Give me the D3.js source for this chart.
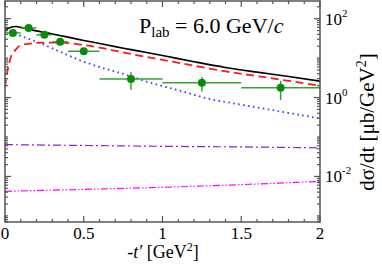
<!DOCTYPE html>
<html>
<head>
<meta charset="utf-8">
<script src="https://cdn.jsdelivr.net/npm/d3@7"></script>
<style>
  body { margin: 0; background: #fff; }
  text { font-family: "Liberation Serif", "DejaVu Serif", serif; fill: #000; }
</style>
</head>
<body>
<div id="chart"></div>
<script>
// measured points (green)
var dataT  = [0.05, 0.15, 0.25, 0.35, 0.5, 0.8, 1.25, 1.75];
var dataLo = [0, 0.1, 0.2, 0.3, 0.4, 0.6, 1.0, 1.5];
var dataHi = [0.1, 0.2, 0.3, 0.4, 0.6, 1.0, 1.5, 2.0];
var dataY  = [43.5, 58, 39, 26, 14.9, 2.97, 2.36, 1.76];
var dataErr = [3, 4, 3, 2, 1.5, 1.4, 0.95, 0.9];

// model curves
var totalT = [0, 0.03, 0.07, 0.1, 0.2, 0.3, 0.4, 0.5, 0.6, 0.7, 0.8, 0.9, 1.0, 1.2, 1.4, 1.6, 1.8, 2.0];
var totalY = [51, 59, 63, 60, 49, 41, 34, 28, 23.4, 19.5, 16.4, 13.8, 11.6, 8.1, 5.8, 4.4, 3.4, 2.6];

var redT = [0, 0.006, 0.027, 0.045, 0.063, 0.095, 0.16, 0.25, 0.35, 0.48, 0.6, 0.7, 0.8, 1.0, 1.2, 1.4, 1.6, 1.8, 2.0];
var redY = [1.8, 2.7, 7.7, 12.5, 15.5, 20.7, 23.3, 24.7, 24.7, 22, 18.5, 15.3, 12.7, 9.0, 6.4, 4.6, 3.5, 2.65, 2.0];

var blueT = [0, 0.095, 0.222, 0.349, 0.476, 0.603, 0.75, 0.92, 1.1, 1.3, 1.5, 1.75, 2.0];
var blueY = [50, 37, 24, 14.5, 8.8, 5.9, 4.0, 2.4, 1.53, 0.92, 0.66, 0.44, 0.295];

var purpleT = [0, 0.5, 1.0, 1.5, 2.0];
var purpleY = [0.064, 0.061, 0.058, 0.056, 0.053];

var magentaT = [0, 0.5, 1.0, 1.5, 2.0];
var magentaY = [0.0042, 0.0047, 0.0053, 0.0062, 0.0075];

var xTicks = [0, 0.5, 1, 1.5, 2];
var yTickExp = [-2, 0, 2];

var W = 382, H = 265;
var pLeft = 5, pRight = 320, pTop = 1, pBottom = 222;

var svg = d3.select("#chart").append("svg")
    .attr("width", W).attr("height", H);

var x = d3.scaleLinear().domain([0, 2]).range([pLeft, pRight]);
var y = d3.scaleLog().domain([7e-4, 280]).range([pBottom, pTop]);

var plot = svg.append("g");
plot.append("clipPath").attr("id", "clip")
  .append("rect").attr("x", pLeft).attr("y", pTop)
  .attr("width", pRight - pLeft).attr("height", pBottom - pTop);

function drawCurve(ts, ys, color, dash, width) {
    var line = d3.line()
        .x(function(d){ return x(d[0]); })
        .y(function(d){ return y(d[1]); })
        .curve(d3.curveMonotoneX);
    plot.append("path")
        .datum(d3.zip(ts, ys))
        .attr("clip-path", "url(#clip)")
        .attr("d", line)
        .attr("fill", "none")
        .attr("stroke", color)
        .attr("stroke-width", width)
        .attr("stroke-dasharray", dash);
}

drawCurve(magentaT, magentaY, "#ff00ff", "7,2,1.5,2,1.5,2", 1.2);
drawCurve(purpleT, purpleY, "#9a1ad6", "8,3,2,3", 1.2);
drawCurve(blueT, blueY, "#3344ff", "1.6,3.4", 1.8);
drawCurve(redT, redY, "#ff1a1a", "8,4.5", 1.8);
drawCurve(totalT, totalY, "#000000", null, 1.6);

// data points
var pts = dataT.map(function(t, i){
    return {t: t, lo: dataLo[i], hi: dataHi[i], v: dataY[i], e: dataErr[i]};
});
var g = plot.append("g");
g.selectAll(".hbar").data(pts).enter().append("line")
    .attr("x1", function(d){ return x(d.lo); })
    .attr("x2", function(d){ return x(d.hi); })
    .attr("y1", function(d){ return y(d.v); })
    .attr("y2", function(d){ return y(d.v); })
    .attr("stroke", "#33a533").attr("stroke-width", 1.5);
g.selectAll(".vbar").data(pts).enter().append("line")
    .attr("x1", function(d){ return x(d.t); })
    .attr("x2", function(d){ return x(d.t); })
    .attr("y1", function(d){ return y(d.v + d.e); })
    .attr("y2", function(d){ return y(d.v - d.e); })
    .attr("stroke", "#33a533").attr("stroke-width", 1.5);
g.selectAll("circle").data(pts).enter().append("circle")
    .attr("cx", function(d){ return x(d.t); })
    .attr("cy", function(d){ return y(d.v); })
    .attr("r", 4)
    .attr("fill", "#0a8a0a");

// frame and ticks
var axisColor = "#555";
var ax = svg.append("g");
ax.append("rect").attr("x", pLeft).attr("y", pTop)
  .attr("width", pRight - pLeft).attr("height", pBottom - pTop)
  .attr("fill", "none").attr("stroke", axisColor).attr("stroke-width", 1.5);

// x ticks (inward, top and bottom)
var xMinor = d3.range(0, 2.001, 0.1);
xMinor.forEach(function(v){
    var major = Math.abs(v * 2 - Math.round(v * 2)) < 1e-6;
    var len = major ? 6 : 3;
    ax.append("line").attr("x1", x(v)).attr("x2", x(v))
      .attr("y1", pBottom).attr("y2", pBottom - len)
      .attr("stroke", axisColor).attr("stroke-width", 1.2);
    ax.append("line").attr("x1", x(v)).attr("x2", x(v))
      .attr("y1", pTop).attr("y2", pTop + len)
      .attr("stroke", axisColor).attr("stroke-width", 1.2);
});
ax.selectAll(".xl").data(xTicks).enter().append("text")
    .attr("x", function(d){ return x(d); })
    .attr("y", 239)
    .attr("text-anchor", "middle")
    .attr("font-size", 17)
    .text(function(d){ return d; });

// y ticks (log)
var yMinor = [];
for (var k = -4; k <= 2; k++) {
    for (var j = 1; j <= 9; j++) {
        var v = j * Math.pow(10, k);
        if (v >= 7e-4 && v <= 280) yMinor.push({v: v, major: j == 1 && k % 2 == 0});
    }
}
yMinor.forEach(function(d){
    var len = d.major ? 6 : 3;
    ax.append("line").attr("x1", pLeft).attr("x2", pLeft + len)
      .attr("y1", y(d.v)).attr("y2", y(d.v))
      .attr("stroke", axisColor).attr("stroke-width", 1.2);
    ax.append("line").attr("x1", pRight).attr("x2", pRight - len)
      .attr("y1", y(d.v)).attr("y2", y(d.v))
      .attr("stroke", axisColor).attr("stroke-width", 1.2);
});
var yl = ax.selectAll(".yl").data(yTickExp).enter().append("text")
    .attr("x", 325)
    .attr("y", function(d){ return y(Math.pow(10, d)) + 6; })
    .attr("font-size", 17);
yl.append("tspan").text("10");
yl.append("tspan").attr("font-size", 11).attr("dy", -8)
  .text(function(d){ return d < 0 ? "-" + (-d) : d; });

// axis titles
var xt = svg.append("text").attr("x", 163).attr("y", 258)
    .attr("text-anchor", "middle").attr("font-size", 18);
xt.append("tspan").text("-");
xt.append("tspan").attr("font-style", "italic").text("t\u2032");
xt.append("tspan").text(" [GeV");
xt.append("tspan").attr("font-size", 12).attr("dy", -7).text("2");
xt.append("tspan").attr("dy", 7).text("]");

var yt = svg.append("text")
    .attr("transform", "translate(374,122) rotate(-90)")
    .attr("text-anchor", "middle").attr("font-size", 21);
yt.append("tspan").text("d\u03c3/dt [\u03bcb/GeV");
yt.append("tspan").attr("font-size", 14).attr("dy", -8).text("2");
yt.append("tspan").attr("dy", 8).text("]");

// annotation
var ann = svg.append("text").attr("x", 139).attr("y", 33).attr("font-size", 22);
ann.append("tspan").text("P");
ann.append("tspan").attr("font-size", 15).attr("dy", 4).text("lab");
ann.append("tspan").attr("dy", -4).text(" = 6.0 GeV/");
ann.append("tspan").attr("font-style", "italic").text("c");
</script>
</body>
</html>
